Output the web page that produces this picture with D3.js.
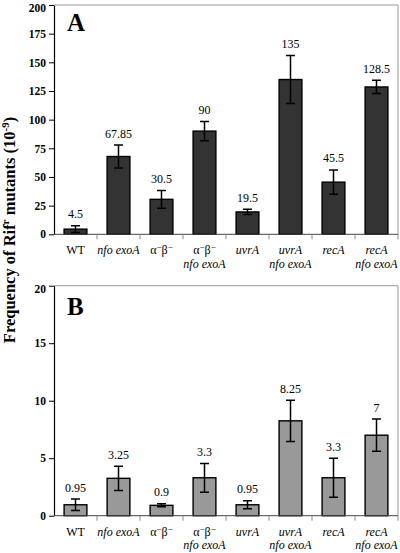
<!DOCTYPE html>
<html><head><meta charset="utf-8">
<script src="https://d3js.org/d3.v7.min.js"></script>
<style>
body{margin:0;background:#fff;}
svg{display:block;}
text{font-family:"Liberation Serif","Times New Roman",serif;}
</style></head>
<body>
<script>
const categories = [["WT"], ["nfo exoA"], ["α⁻β⁻"], ["α⁻β⁻", "nfo exoA"], ["uvrA"], ["uvrA", "nfo exoA"], ["recA"], ["recA", "nfo exoA"]];
const valuesA = [4.5, 67.85, 30.5, 90, 19.5, 135, 45.5, 128.5];
const errorsA = [3, 10, 7.7, 8.3, 2.3, 21, 10.6, 5.8];
const labelsA = ["4.5", "67.85", "30.5", "90", "19.5", "135", "45.5", "128.5"];
const ticksA = [0, 25, 50, 75, 100, 125, 150, 175, 200];
const valuesB = [0.95, 3.25, 0.9, 3.3, 0.95, 8.25, 3.3, 7];
const errorsB = [0.5, 1.05, 0.13, 1.25, 0.35, 1.8, 1.7, 1.4];
const labelsB = ["0.95", "3.25", "0.9", "3.3", "0.95", "8.25", "3.3", "7"];
const ticksB = [0, 5, 10, 15, 20];

const W = 400, H = 553;
const svg = d3.select("body").append("svg").attr("width", W).attr("height", H);

const left = 54, right = 398;
const x = d3.scaleBand().domain(d3.range(categories.length)).range([left, right]).padding(0);
const barW = x.bandwidth() * 0.53;

function panel(opts) {
  const {top, bottom, max, ticks, values, errors, labels, fill, letter} = opts;
  const y = d3.scaleLinear().domain([0, max]).range([bottom, top]);
  const g = svg.append("g");
  g.append("path").attr("d", `M${left},${top}H${right}V${bottom}`)
    .attr("fill", "none").attr("stroke", "#999").attr("stroke-width", 1);
  g.selectAll("rect.bar").data(values).join("rect")
    .attr("x", (d, i) => x(i) + (x.bandwidth() - barW) / 2)
    .attr("y", d => y(d)).attr("width", barW).attr("height", d => y(0) - y(d))
    .attr("fill", fill).attr("stroke", "#000").attr("stroke-width", 1.4);
  const cap = 4.5;
  values.forEach((v, i) => {
    const cx = x(i) + x.bandwidth() / 2;
    const t = y(v + errors[i]), b = y(v - errors[i]);
    g.append("path").attr("d", `M${cx},${t}V${b}M${cx - cap},${t}H${cx + cap}M${cx - cap},${b}H${cx + cap}`)
      .attr("stroke", "#000").attr("stroke-width", 1.5).attr("fill", "none");
    g.append("text").attr("x", cx).attr("y", t - 7.5).attr("text-anchor", "middle")
      .attr("font-size", 12).attr("fill", "#000").text(labels[i]);
  });
  const ya = g.append("g").attr("transform", `translate(${left},0)`)
    .call(d3.axisLeft(y).tickValues(ticks).tickSize(5).tickSizeOuter(0).tickPadding(3));
  ya.select(".domain").attr("stroke", "#000").attr("stroke-width", 1.2);
  ya.selectAll(".tick line").attr("stroke", "#000");
  ya.selectAll(".tick text").attr("font-family", "'Liberation Serif',serif").attr("font-weight", "bold").attr("font-size", 11.5).attr("fill", "#000")
    .attr("dy", (d) => d === max ? "0.6em" : "0.32em");
  const xa = g.append("g").attr("transform", `translate(0,${bottom})`);
  xa.append("line").attr("x1", left).attr("x2", right).attr("stroke", "#444").attr("stroke-width", 1);
  d3.range(1, categories.length + 1).forEach(i => {
    const xx = i < categories.length ? x(i) : right;
    xa.append("line").attr("x1", xx).attr("x2", xx).attr("y1", 0).attr("y2", 5).attr("stroke", "#888");
  });
  categories.forEach((lines, i) => {
    const cx = x(i) + x.bandwidth() / 2;
    lines.forEach((ln, j) => {
      const italic = !(ln === "WT" || ln.startsWith("α"));
      const t = xa.append("text").attr("x", cx).attr("y", 20 + j * 13.5)
        .attr("text-anchor", "middle").attr("font-size", 12).attr("fill", "#000")
        .attr("font-style", italic ? "italic" : "normal");
      if (ln.startsWith("α")) {
        t.append("tspan").text("α");
        t.append("tspan").attr("dy", -4).attr("font-size", 9).text("−");
        t.append("tspan").attr("dy", 4).text("β");
        t.append("tspan").attr("dy", -4).attr("font-size", 9).text("−");
      } else t.text(ln);
    });
  });
  g.append("text").attr("x", 67).attr("y", opts.letterY).attr("font-size", 25).attr("font-weight", "bold").text(letter);
}

panel({top: 5, bottom: 234.3, max: 200, ticks: ticksA, values: valuesA, errors: errorsA, labels: labelsA, fill: "#333333", letter: "A", letterY: 30.5});
panel({top: 285.7, bottom: 515.7, max: 20, ticks: ticksB, values: valuesB, errors: errorsB, labels: labelsB, fill: "#999999", letter: "B", letterY: 315});

const title = svg.append("text").attr("transform", "translate(15,230) rotate(-90)")
  .attr("text-anchor", "middle").attr("font-size", 16.5).attr("font-weight", "bold").attr("fill", "#000");
title.append("tspan").text("Frequency of Rif");
title.append("tspan").attr("dy", -6).attr("font-size", 11).text("r");
title.append("tspan").attr("dy", 6).text(" mutants (10");
title.append("tspan").attr("dy", -6).attr("font-size", 11).text("-9");
title.append("tspan").attr("dy", 6).text(")");
</script>
</body></html>
